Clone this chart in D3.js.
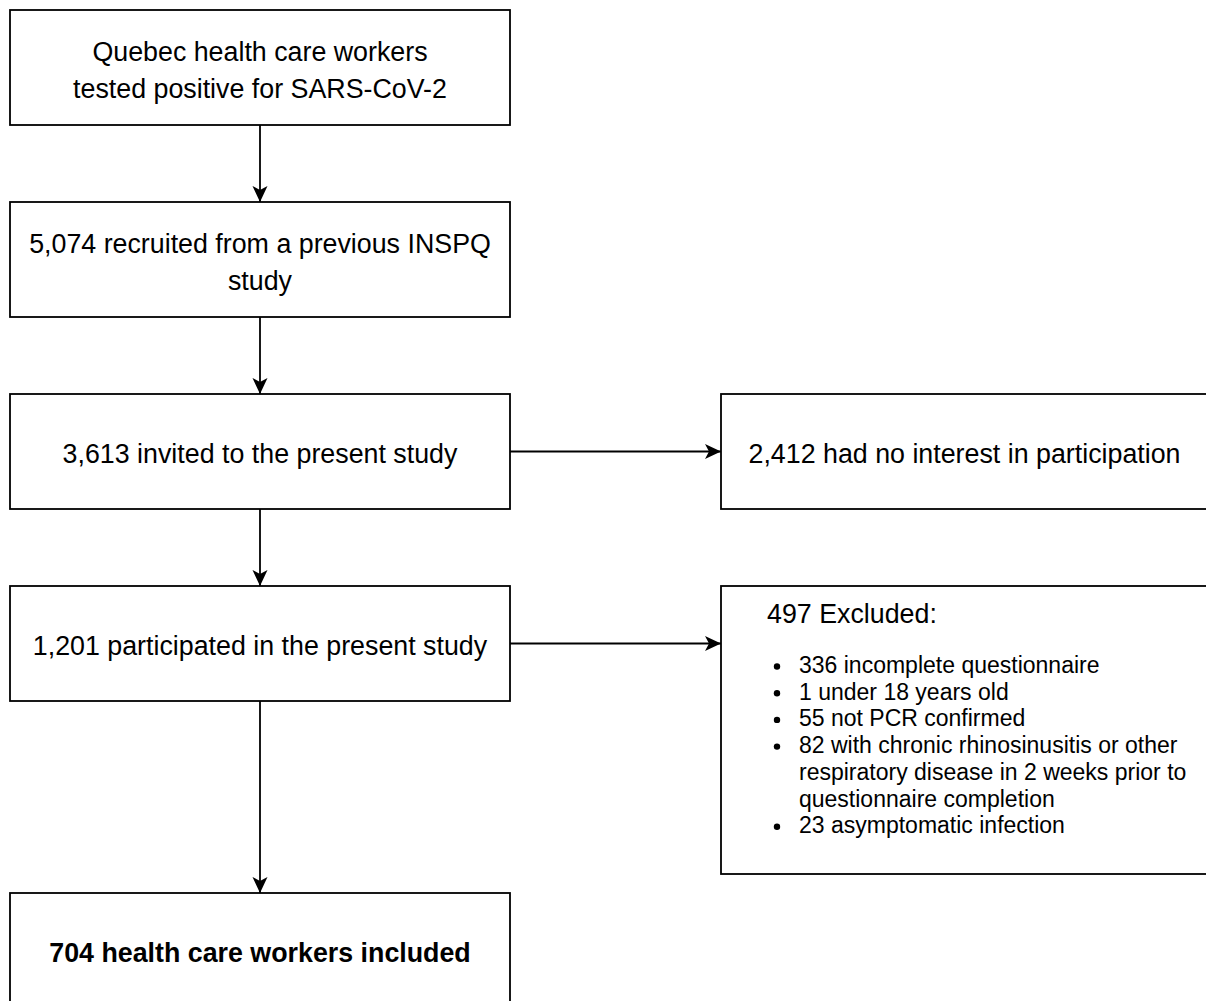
<!DOCTYPE html>
<html>
<head>
<meta charset="utf-8">
<script src="https://d3js.org/d3.v7.min.js"></script>
<style>
body { margin: 0; background: #fff; }
text { font-family: "Liberation Sans", Arial, Helvetica, sans-serif; fill: #000; }
</style>
</head>
<body>
<script>
// main flow boxes, top to bottom (each entry = lines of text)
var flowLabels = [
  ["Quebec health care workers", "tested positive for SARS-CoV-2"],
  ["5,074 recruited from a previous INSPQ", "study"],
  ["3,613 invited to the present study"],
  ["1,201 participated in the present study"],
  ["704 health care workers included"]
];
var flowBold = [false, false, false, false, true];

// side boxes: which flow step they branch from, and their text
var sideFrom = [2, 3];
var sideTitles = ["2,412 had no interest in participation", "497 Excluded:"];
var excludedItems = [
  ["336 incomplete questionnaire"],
  ["1 under 18 years old"],
  ["55 not PCR confirmed"],
  ["82 with chronic rhinosinusitis or other", "respiratory disease in 2 weeks prior to", "questionnaire completion"],
  ["23 asymptomatic infection"]
];

// layout
var w = 1206, h = 1001;
var rowTop = [10, 202, 394, 586, 893];
var boxH = 115, leftX = 10, boxW = 500;
var sideX = 721, sideW = 487, sideH = [115, 288];
var fs = 26.8, lh = 36.5;
var fsSmall = 23, lhSmall = 26.7;
var cx = leftX + boxW / 2;

var svg = d3.select("body").append("svg")
  .attr("width", w)
  .attr("height", h);

svg.append("rect").attr("width", w).attr("height", h).attr("fill", "#fff");

// arrow head (drawio style "classic")
svg.append("defs").append("marker")
  .attr("id", "arrow")
  .attr("viewBox", "0 -8 16 16")
  .attr("refX", 16).attr("refY", 0)
  .attr("markerWidth", 16).attr("markerHeight", 16)
  .attr("markerUnits", "userSpaceOnUse")
  .attr("orient", "auto")
  .append("path")
  .attr("d", "M16,0 L0,-7.5 L4,0 L0,7.5 Z")
  .attr("fill", "#000");

// vertical connectors
for (var i = 0; i < flowLabels.length - 1; i++) {
  svg.append("line")
    .attr("x1", cx).attr("y1", rowTop[i] + boxH)
    .attr("x2", cx).attr("y2", rowTop[i + 1])
    .attr("stroke", "#000").attr("stroke-width", 1.8)
    .attr("marker-end", "url(#arrow)");
}

// main boxes
var boxes = svg.selectAll("g.flow")
  .data(flowLabels)
  .enter().append("g")
  .attr("class", "flow");

boxes.append("rect")
  .attr("x", leftX)
  .attr("y", function(d, i) { return rowTop[i]; })
  .attr("width", boxW)
  .attr("height", boxH)
  .attr("fill", "#fff")
  .attr("stroke", "#000")
  .attr("stroke-width", 1.8);

boxes.each(function(lines, i) {
  var mid = rowTop[i] + boxH / 2;
  var y0 = mid - (lines.length - 1) / 2 * lh + 0.44 * fs;
  d3.select(this).selectAll("text")
    .data(lines)
    .enter().append("text")
    .attr("x", cx)
    .attr("y", function(d, j) { return y0 + j * lh; })
    .attr("text-anchor", "middle")
    .style("font-size", fs + "px")
    .style("font-weight", flowBold[i] ? "bold" : "normal")
    .text(function(d) { return d; });
});

// side boxes + horizontal connectors
sideFrom.forEach(function(from, k) {
  var yMid = rowTop[from] + boxH / 2;
  svg.append("line")
    .attr("x1", leftX + boxW).attr("y1", yMid)
    .attr("x2", sideX).attr("y2", yMid)
    .attr("stroke", "#000").attr("stroke-width", 1.8)
    .attr("marker-end", "url(#arrow)");
  svg.append("rect")
    .attr("x", sideX)
    .attr("y", rowTop[from])
    .attr("width", sideW)
    .attr("height", sideH[k])
    .attr("fill", "#fff")
    .attr("stroke", "#000")
    .attr("stroke-width", 1.8);
});

// "no interest" box: centred text
svg.append("text")
  .attr("x", sideX + sideW / 2)
  .attr("y", rowTop[sideFrom[0]] + boxH / 2 + 0.44 * fs)
  .attr("text-anchor", "middle")
  .style("font-size", fs + "px")
  .text(sideTitles[0]);

// exclusion box: title + bullet list
var exTop = rowTop[sideFrom[1]];
svg.append("text")
  .attr("x", sideX + 46)
  .attr("y", exTop + 37)
  .style("font-size", fs + "px")
  .text(sideTitles[1]);

var lineNo = 0;
excludedItems.forEach(function(item) {
  var yb = exTop + 87 + lineNo * lhSmall;
  svg.append("circle")
    .attr("cx", sideX + 56)
    .attr("cy", yb - 6.5)
    .attr("r", 3.2)
    .attr("fill", "#000");
  item.forEach(function(line, j) {
    svg.append("text")
      .attr("x", sideX + 78)
      .attr("y", yb + j * lhSmall)
      .style("font-size", fsSmall + "px")
      .text(line);
  });
  lineNo += item.length;
});
</script>
</body>
</html>
